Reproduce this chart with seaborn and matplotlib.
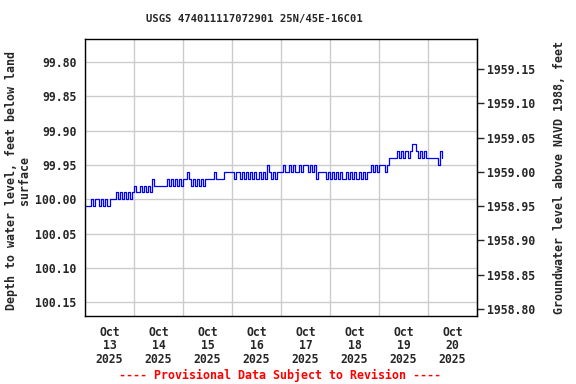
import pandas as pd
import seaborn as sns
import matplotlib
matplotlib.use("Agg")
import matplotlib.pyplot as plt
import matplotlib.ticker as mticker

# hourly depth to water, feet below land surface
oct13 = [100.01, 100.01, 100.01, 100.00, 100.01, 100.00, 100.00, 100.01,
         100.00, 100.01, 100.00, 100.01, 100.00, 100.00, 100.00, 99.99,
         100.00, 99.99, 100.00, 99.99, 100.00, 99.99, 100.00, 99.99]
oct14 = [99.98, 99.99, 99.99, 99.98, 99.99, 99.98, 99.99, 99.98,
         99.99, 99.97, 99.98, 99.98, 99.98, 99.98, 99.98, 99.98,
         99.97, 99.98, 99.97, 99.98, 99.97, 99.98, 99.97, 99.98]
oct15 = [99.97, 99.97, 99.96, 99.97, 99.98, 99.97, 99.98, 99.97,
         99.98, 99.97, 99.98, 99.97, 99.97, 99.97, 99.97, 99.96,
         99.97, 99.97, 99.97, 99.97, 99.96, 99.96, 99.96, 99.96]
oct16 = [99.96, 99.97, 99.96, 99.96, 99.97, 99.96, 99.97, 99.96,
         99.97, 99.96, 99.97, 99.96, 99.97, 99.96, 99.97, 99.96,
         99.97, 99.95, 99.96, 99.97, 99.96, 99.97, 99.96, 99.96]
oct17 = [99.96, 99.95, 99.96, 99.96, 99.95, 99.96, 99.95, 99.96,
         99.96, 99.95, 99.96, 99.95, 99.95, 99.96, 99.95, 99.96,
         99.95, 99.97, 99.96, 99.96, 99.96, 99.96, 99.97, 99.96]
oct18 = [99.97, 99.96, 99.97, 99.96, 99.97, 99.96, 99.97, 99.97,
         99.96, 99.97, 99.96, 99.97, 99.96, 99.97, 99.96, 99.97,
         99.96, 99.97, 99.96, 99.96, 99.95, 99.96, 99.95, 99.96]
oct19 = [99.95, 99.95, 99.95, 99.96, 99.95, 99.94, 99.94, 99.94,
         99.94, 99.93, 99.94, 99.93, 99.94, 99.93, 99.94, 99.93,
         99.92, 99.92, 99.93, 99.94, 99.93, 99.94, 99.93, 99.94]
oct20 = [99.94, 99.94, 99.94, 99.94, 99.94, 99.95, 99.93, 99.94]

depth = oct13 + oct14 + oct15 + oct16 + oct17 + oct18 + oct19 + oct20
times = pd.date_range("2025-10-13 00:00", periods=len(depth), freq="h")
df = pd.DataFrame({"time": times, "depth": depth})

datum = 2058.96  # land surface elevation, NAVD 1988
left_ticks = [99.80, 99.85, 99.90, 99.95, 100.00, 100.05, 100.10, 100.15]
right_ticks = [1959.15, 1959.10, 1959.05, 1959.00, 1958.95, 1958.90, 1958.85, 1958.80]
day_labels = ["Oct\n13\n2025", "Oct\n14\n2025", "Oct\n15\n2025", "Oct\n16\n2025",
              "Oct\n17\n2025", "Oct\n18\n2025", "Oct\n19\n2025", "Oct\n20\n2025"]
midnights = pd.date_range("2025-10-13", "2025-10-21", freq="D")
noons = pd.date_range("2025-10-13 12:00", periods=8, freq="D")

sns.set_style("ticks")
plt.rcParams["font.family"] = ["DejaVu Sans Mono"]
plt.rcParams["font.weight"] = "bold"

fig, ax = plt.subplots(figsize=(5.76, 3.84), dpi=100)
fig.subplots_adjust(left=0.1476, right=0.828, top=0.898, bottom=0.177)

sns.lineplot(data=df, x="time", y="depth", ax=ax, color="#0000ff",
             linewidth=0.9, drawstyle="steps-post")

ax.set_xlim(midnights[0], midnights[-1])
ax.set_ylim(100.1704, 99.7665)

ax.set_xticks(midnights)
ax.set_xticklabels([""] * len(midnights))
ax.set_xticks(noons, minor=True)
ax.set_xticklabels(day_labels, minor=True, fontsize=8.3, fontweight="bold",
                   linespacing=1.05)
ax.tick_params(axis="x", which="both", length=0, pad=7)

ax.set_yticks(left_ticks)
ax.yaxis.set_major_formatter(mticker.FormatStrFormatter("%.2f"))
ax.tick_params(axis="y", length=0, pad=6, labelsize=8.3)

ax.grid(True, which="major", color="#cccccc", linewidth=1)
for s in ax.spines.values():
    s.set_visible(True)
    s.set_color("black")
    s.set_linewidth(1)

ax.set_xlabel("")
ax.set_ylabel("Depth to water level, feet below land\nsurface", fontsize=8.4,
              fontweight="bold", linespacing=1.0)
ax.yaxis.set_label_coords(-0.138, 0.49)

sec = ax.secondary_yaxis("right", functions=(lambda d: datum - d, lambda e: datum - e))
sec.set_yticks(right_ticks)
sec.yaxis.set_major_formatter(mticker.FormatStrFormatter("%.2f"))
sec.tick_params(axis="y", length=5, width=1, pad=2, labelsize=8.3)
sec.set_ylabel("Groundwater level above NAVD 1988, feet", fontsize=8.4,
               fontweight="bold")
sec.yaxis.set_label_coords(1.194, 0.5, transform=ax.transAxes)

fig.text(0.442, 0.95, "USGS 474011117072901 25N/45E-16C01", ha="center",
         va="center", fontsize=7.6, fontweight="bold")
fig.text(0.486, 0.023, "---- Provisional Data Subject to Revision ----",
         ha="center", va="center", fontsize=8.4, fontweight="bold", color="red")

fig.savefig("out.png", dpi=100)
